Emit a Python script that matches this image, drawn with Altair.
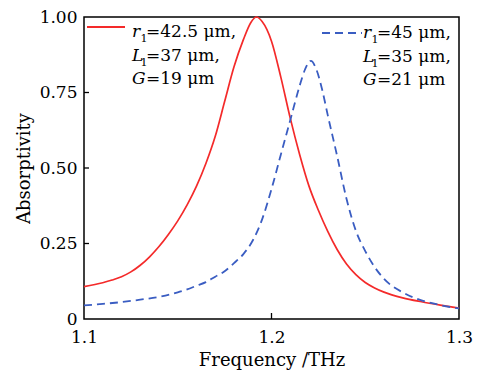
import altair as alt
import pandas as pd

# ---- data ----
red_freq = [1.100, 1.110, 1.115, 1.120, 1.125, 1.130, 1.135, 1.140, 1.145, 1.150, 1.155,
            1.160, 1.165, 1.170, 1.175, 1.180, 1.185, 1.189, 1.192, 1.195, 1.200,
            1.205, 1.210, 1.215, 1.220, 1.225, 1.230, 1.235, 1.240, 1.245, 1.250,
            1.255, 1.260, 1.270, 1.280, 1.290, 1.300]
red_abs = [0.107, 0.120, 0.129, 0.140, 0.156, 0.178, 0.206, 0.240, 0.280, 0.325, 0.378,
           0.440, 0.515, 0.605, 0.720, 0.835, 0.925, 0.982, 1.000, 0.985, 0.920,
           0.800, 0.665, 0.545, 0.440, 0.360, 0.290, 0.230, 0.182, 0.147, 0.121,
           0.103, 0.089, 0.070, 0.057, 0.046, 0.036]

blue_freq = [1.100, 1.110, 1.120, 1.130, 1.140, 1.150, 1.155, 1.160, 1.165, 1.170,
             1.175, 1.180, 1.185, 1.190, 1.195, 1.200, 1.205, 1.210, 1.215, 1.218,
             1.221, 1.224, 1.227, 1.230, 1.235, 1.240, 1.245, 1.250, 1.255, 1.260,
             1.270, 1.280, 1.290, 1.300]
blue_abs = [0.045, 0.050, 0.056, 0.064, 0.073, 0.088, 0.098, 0.110, 0.122, 0.140,
            0.158, 0.185, 0.215, 0.260, 0.330, 0.430, 0.545, 0.658, 0.772, 0.828,
            0.855, 0.825, 0.760, 0.675, 0.540, 0.398, 0.292, 0.225, 0.172, 0.133,
            0.088, 0.062, 0.046, 0.035]

x_ticks = [1.1, 1.2, 1.3]
y_ticks = [0, 0.25, 0.5, 0.75, 1.0]
inner_x_ticks = [1.2]
inner_y_ticks = [0.25, 0.5, 0.75]

legend1 = [("r", "1", "=42.5 μm,"), ("L", "1", "=37 μm,"), ("G", "", "=19 μm")]
legend2 = [("r", "1", "=45 μm,"), ("L", "1", "=35 μm,"), ("G", "", "=21 μm")]

RED = "#f42a2a"
BLUE = "#3a5dc2"
FONT = "DejaVu Serif"
W, H = 375, 302

red_df = pd.DataFrame({"f": red_freq, "a": red_abs})
blue_df = pd.DataFrame({"f": blue_freq, "a": blue_abs})

xs = alt.Scale(domain=[1.1, 1.3], nice=False, zero=False)
ys = alt.Scale(domain=[0, 1], nice=False)

xaxis = alt.Axis(values=x_ticks, labelExpr="format(datum.value, '.1f')",
                 title="Frequency /THz", titlePadding=6, labelPadding=10,
                 labelFlush=False)
yaxis = alt.Axis(values=y_ticks,
                 labelExpr="datum.value == 0 ? '0' : format(datum.value, '.2f')",
                 title="Absorptivity", titlePadding=6, labelPadding=7)

red_line = alt.Chart(red_df).mark_line(color=RED, strokeWidth=1.7, interpolate="monotone").encode(
    x=alt.X("f:Q", scale=xs, axis=xaxis),
    y=alt.Y("a:Q", scale=ys, axis=yaxis),
)
blue_line = alt.Chart(blue_df).mark_line(color=BLUE, strokeWidth=1.8, strokeDash=[8, 5],
                                         interpolate="monotone").encode(
    x=alt.X("f:Q", scale=xs),
    y=alt.Y("a:Q", scale=ys),
)

ytick_layer = alt.Chart(pd.DataFrame({"v": inner_y_ticks})).mark_rule(color="black", strokeWidth=1.3).encode(
    y=alt.Y("v:Q", scale=ys), x=alt.value(0), x2=alt.value(5)
)
xtick_layer = alt.Chart(pd.DataFrame({"v": inner_x_ticks})).mark_rule(color="black", strokeWidth=1.3).encode(
    x=alt.X("v:Q", scale=xs), y=alt.value(H), y2=alt.value(H - 6)
)

layers = [red_line, blue_line, ytick_layer, xtick_layer]


def legend_block(lines, x0, base_y, line_y, line_x1, line_x2, color, dash):
    out = []
    seg = alt.Chart(pd.DataFrame({"k": [0]})).mark_rule(color=color, strokeWidth=1.8,
                                                         strokeDash=dash).encode(
        x=alt.value(line_x1), x2=alt.value(line_x2), y=alt.value(line_y))
    out.append(seg)
    for i, (var, sub, rest) in enumerate(lines):
        yb = base_y + i * 23.5
        out.append(alt.Chart(pd.DataFrame({"t": [var]})).mark_text(
            font=FONT, fontSize=17, fontStyle="italic", align="left", baseline="alphabetic",
            color="black").encode(text="t:N", x=alt.value(x0), y=alt.value(yb)))
        if sub:
            out.append(alt.Chart(pd.DataFrame({"t": [sub]})).mark_text(
                font=FONT, fontSize=11, align="left", baseline="alphabetic",
                color="black").encode(text="t:N", x=alt.value(x0 + 8.5), y=alt.value(yb + 5)))
        out.append(alt.Chart(pd.DataFrame({"t": [rest]})).mark_text(
            font=FONT, fontSize=17, align="left", baseline="alphabetic",
            color="black").encode(text="t:N", x=alt.value(x0 + 14), y=alt.value(yb)))
    return out


layers += legend_block(legend1, 48, 20, 10, 3, 41, RED, [1, 0])
layers += legend_block(legend2, 279, 21, 16, 238, 278, BLUE, [8, 5])

chart = alt.layer(*layers).properties(
    width=W, height=H,
    autosize=alt.AutoSizeParams(type="none"),
    padding={"left": 76, "top": 9, "right": 15, "bottom": 58},
).configure_view(
    stroke="black", strokeWidth=1.5
).configure_axis(
    ticks=False, domain=False, grid=False,
    labelFont=FONT, labelFontSize=17, labelColor="black",
    titleFont=FONT, titleFontSize=18, titleFontWeight="normal", titleColor="black",
)

chart.save("out.html", embed_options={"renderer": "svg", "actions": False})
